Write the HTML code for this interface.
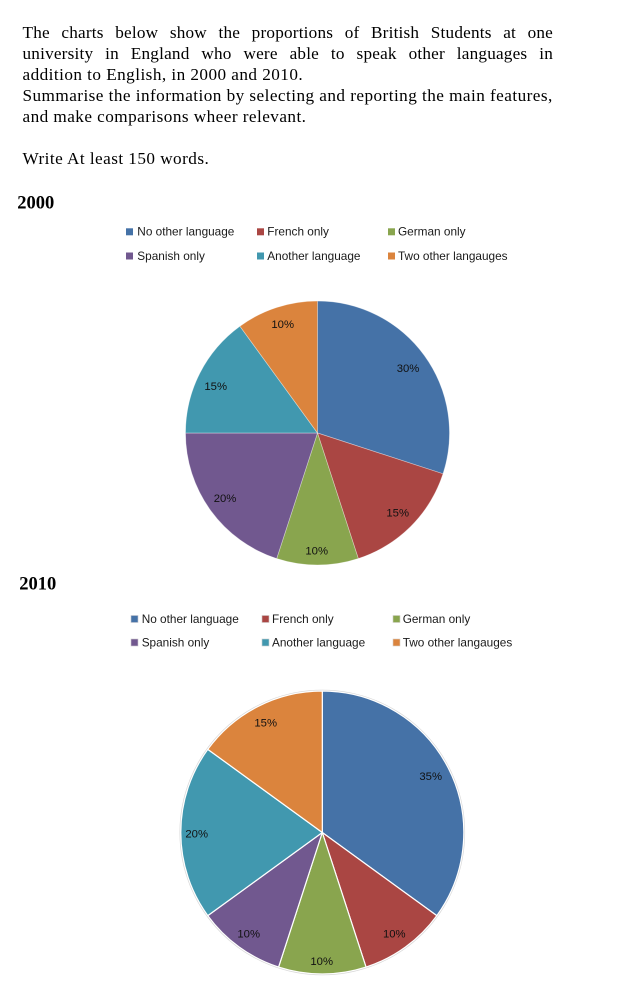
<!DOCTYPE html>
<html>
<head>
<meta charset="utf-8">
<style>
  html, body { margin:0; padding:0; background:#fff; }
  body { width:622px; height:995px; position:relative; overflow:hidden; }
  .t { position:absolute; left:22.5px; width:530.5px; font-family:"Liberation Serif", serif; font-size:17.2px; letter-spacing:0.45px; line-height:20px; color:#000; white-space:nowrap; }
  .j { text-align:justify; text-align-last:justify; white-space:normal; letter-spacing:0.2px; }
  svg { position:absolute; left:0; top:0; }
</style>
</head>
<body>
<div class="t j" style="top:22.5px;">The charts below show the proportions of British Students at one</div>
<div class="t j" style="top:44.2px;">university in England who were able to speak other languages in</div>
<div class="t" style="top:64.9px;">addition to English, in 2000 and 2010.</div>
<div class="t" style="top:85.9px;">Summarise the information by selecting and reporting the main features,</div>
<div class="t" style="top:106.9px;">and make comparisons wheer relevant.</div>
<div class="t" style="top:149.2px;">Write At least 150 words.</div>

<svg width="622" height="995" viewBox="0 0 622 995" xmlns="http://www.w3.org/2000/svg">
  <g font-family="Liberation Serif, serif" font-weight="bold" font-size="18.5" fill="#000">
    <text x="17.3" y="208.3">2000</text>
    <text x="19.3" y="589.3">2010</text>
  </g>

  <!-- Legend 1 -->
  <g font-family="Liberation Sans, sans-serif" font-size="11.8" fill="#1a1a1a">
    <rect x="126" y="228.3" width="7" height="7" fill="#4572A7"/>
    <text x="137.3" y="235.6">No other language</text>
    <rect x="257" y="228.3" width="7" height="7" fill="#AA4643"/>
    <text x="267.3" y="235.6">French only</text>
    <rect x="388" y="228.3" width="7" height="7" fill="#89A54E"/>
    <text x="398" y="235.6">German only</text>
    <rect x="126" y="252.5" width="7" height="7" fill="#71588F"/>
    <text x="137.3" y="259.9">Spanish only</text>
    <rect x="257" y="252.5" width="7" height="7" fill="#4198AF"/>
    <text x="267.3" y="259.9">Another language</text>
    <rect x="388" y="252.5" width="7" height="7" fill="#DB843D"/>
    <text x="398" y="259.9">Two other langauges</text>
  </g>

  <!-- Pie 1 -->
  <g stroke="rgba(255,255,255,0.45)" stroke-width="0.7">
    <path d="M317.5,433 L317.5,301 A132,132 0 0 1 443.04,473.79 Z" fill="#4572A7"/>
    <path d="M317.5,433 L443.04,473.79 A132,132 0 0 1 358.29,558.54 Z" fill="#AA4643"/>
    <path d="M317.5,433 L358.29,558.54 A132,132 0 0 1 276.71,558.54 Z" fill="#89A54E"/>
    <path d="M317.5,433 L276.71,558.54 A132,132 0 0 1 185.5,433 Z" fill="#71588F"/>
    <path d="M317.5,433 L185.5,433 A132,132 0 0 1 239.91,326.21 Z" fill="#4198AF"/>
    <path d="M317.5,433 L239.91,326.21 A132,132 0 0 1 317.5,301 Z" fill="#DB843D"/>
  </g>
  <g font-family="Liberation Sans, sans-serif" font-size="11.3" fill="#111" text-anchor="middle">
    <text x="408" y="372">30%</text>
    <text x="397.7" y="516.7">15%</text>
    <text x="316.7" y="554.7">10%</text>
    <text x="225" y="502">20%</text>
    <text x="215.7" y="390">15%</text>
    <text x="282.7" y="328">10%</text>
  </g>

  <!-- Legend 2 -->
  <g font-family="Liberation Sans, sans-serif" font-size="11.8" fill="#1a1a1a">
    <rect x="131" y="615.5" width="7" height="7" fill="#4572A7" stroke="#c8c8d0" stroke-width="0.6"/>
    <text x="141.7" y="622.8">No other language</text>
    <rect x="262" y="615.5" width="7" height="7" fill="#AA4643" stroke="#d0c8c8" stroke-width="0.6"/>
    <text x="272" y="622.8">French only</text>
    <rect x="393" y="615.5" width="7" height="7" fill="#89A54E" stroke="#d0d0c8" stroke-width="0.6"/>
    <text x="402.7" y="622.8">German only</text>
    <rect x="131" y="639" width="7" height="7" fill="#71588F" stroke="#ccc8d0" stroke-width="0.6"/>
    <text x="141.7" y="646.5">Spanish only</text>
    <rect x="262" y="639" width="7" height="7" fill="#4198AF" stroke="#c8d0d0" stroke-width="0.6"/>
    <text x="272" y="646.5">Another language</text>
    <rect x="393" y="639" width="7" height="7" fill="#DB843D" stroke="#d8d0c8" stroke-width="0.6"/>
    <text x="402.7" y="646.5">Two other langauges</text>
  </g>

  <!-- Pie 2 -->
  <circle cx="322.3" cy="832.5" r="142.3" fill="none" stroke="#d8d8d8" stroke-width="1"/>
  <g stroke="#fff" stroke-width="1.2" stroke-linejoin="round">
    <path d="M322.3,832.5 L322.3,691 A141.5,141.5 0 0 1 436.78,915.67 Z" fill="#4572A7"/>
    <path d="M322.3,832.5 L436.78,915.67 A141.5,141.5 0 0 1 366.03,967.08 Z" fill="#AA4643"/>
    <path d="M322.3,832.5 L366.03,967.08 A141.5,141.5 0 0 1 278.57,967.08 Z" fill="#89A54E"/>
    <path d="M322.3,832.5 L278.57,967.08 A141.5,141.5 0 0 1 207.82,915.67 Z" fill="#71588F"/>
    <path d="M322.3,832.5 L207.82,915.67 A141.5,141.5 0 0 1 207.82,749.33 Z" fill="#4198AF"/>
    <path d="M322.3,832.5 L207.82,749.33 A141.5,141.5 0 0 1 322.3,691 Z" fill="#DB843D"/>
  </g>
  <g font-family="Liberation Sans, sans-serif" font-size="11.3" fill="#111" text-anchor="middle">
    <text x="430.7" y="780">35%</text>
    <text x="394.3" y="937.3">10%</text>
    <text x="321.7" y="965">10%</text>
    <text x="248.7" y="937.3">10%</text>
    <text x="196.7" y="837.3">20%</text>
    <text x="265.7" y="726.3">15%</text>
  </g>
</svg>
</body>
</html>
